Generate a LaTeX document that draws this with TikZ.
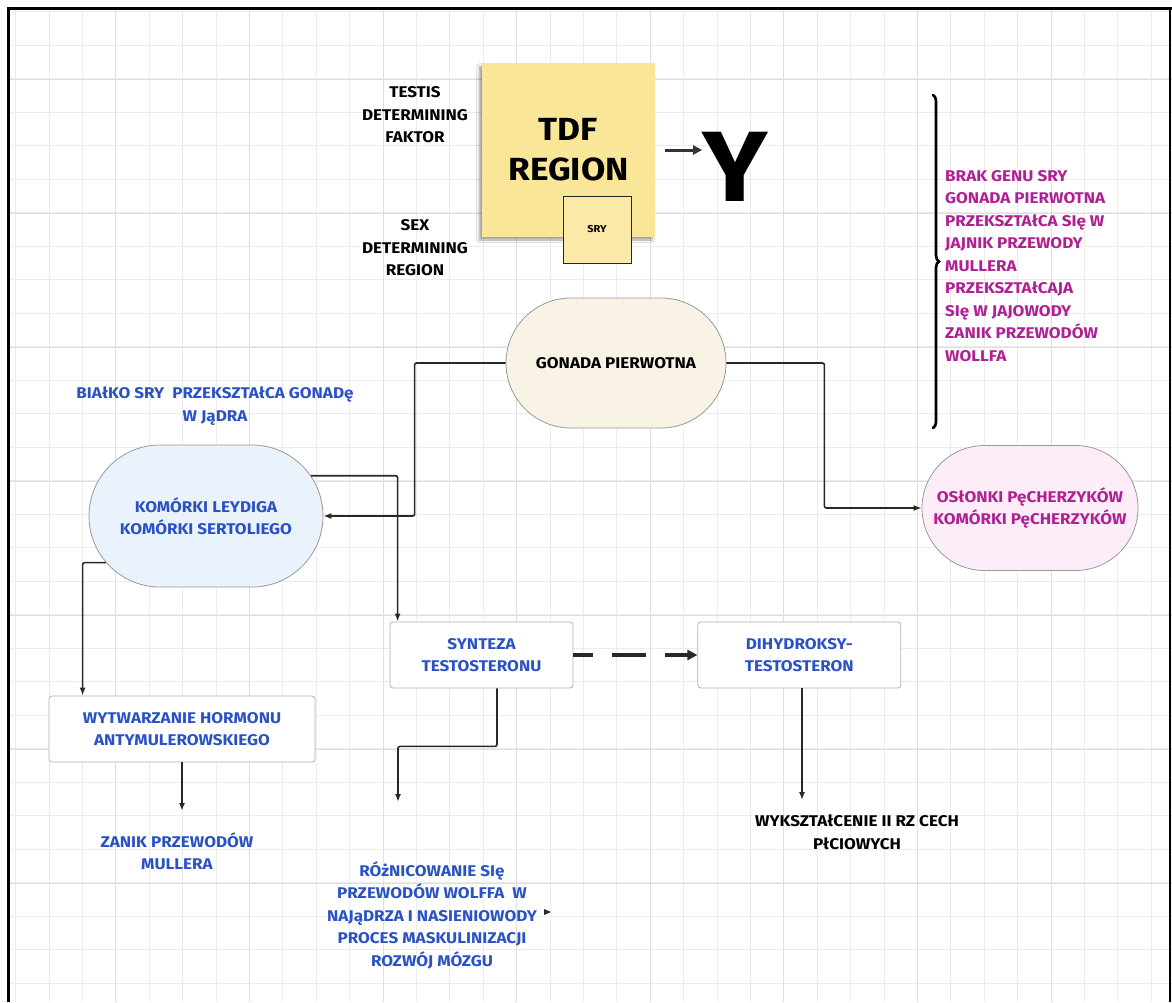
\documentclass[tikz,border=0pt]{standalone}
\usepackage{fontspec}
\setmainfont{Fira Sans}[FakeStretch=1.1]
\usepackage{tikz}
\usetikzlibrary{positioning, calc}
\usetikzlibrary{arrows.meta}
\usetikzlibrary{shapes.misc, shadows.blur, decorations.pathreplacing}

\definecolor{inkblue}{RGB}{42,82,196}
\definecolor{inkpink}{RGB}{176,32,146}
\definecolor{linegray}{RGB}{40,40,40}
\definecolor{gridminor}{RGB}{236,236,236}
\definecolor{gridmajor}{RGB}{222,222,222}
\definecolor{stickyyellow}{RGB}{250,230,152}
\definecolor{gonadfill}{RGB}{248,243,229}
\definecolor{leydigfill}{RGB}{234,242,252}
\definecolor{folfill}{RGB}{252,237,248}

\tikzstyle{termbox}=[rounded rectangle, draw=black!40, thick, align=center,
inner sep=0pt, font=\fontsize{15.5}{22.5}\bfseries\selectfont]
\tikzstyle{procbox}=[rectangle, draw=black!30, thick, rounded corners=3pt,
fill=white, align=center, inner sep=0pt, text=inkblue,
font=\fontsize{15.5}{22.5}\bfseries\selectfont]
\tikzstyle{textbox}=[align=center, inner sep=0pt,
font=\fontsize{15.5}{22.5}\bfseries\selectfont]
\tikzstyle{edgepath} = [-{Latex[length=8pt,width=6pt]}, line width=1.6pt,
draw=linegray, rounded corners=2pt]

\begin{document}
\begin{tikzpicture}[x=1pt, y=-1pt]
    \useasboundingbox (0,0) rectangle (1172,1002);
    \fill[white] (0,0) rectangle (1172,1002);
    % squared paper
    \foreach \i in {0,...,34}
        \draw[gridminor, line width=1pt] ({15.6+33.4*\i},8) -- ({15.6+33.4*\i},1002);
    \foreach \j in {0,...,29}
        \draw[gridminor, line width=1pt] (8,{11.5+33.5*\j}) -- (1172,{11.5+33.5*\j});
    \foreach \i in {0,...,7}
        \draw[gridmajor, line width=1pt] ({115.8+133.6*\i},8) -- ({115.8+133.6*\i},1002);
    \foreach \j in {0,...,6}
        \draw[gridmajor, line width=1pt] (8,{79+134*\j}) -- (1172,{79+134*\j});
    \draw[line width=3pt] (8,1002) -- (8,8) -- (1172,8);
    \draw[line width=2pt] (1170,8) -- (1170,1002);

    % TDF region and Y
    \node[rectangle, fill=stickyyellow, minimum width=173pt, minimum height=174pt,
          blur shadow={shadow xshift=-3pt, shadow yshift=-3pt, shadow opacity=35},
          align=center, font=\fontsize{32}{40}\bfseries\selectfont] (tdf) at (568.5,150) {TDF\\REGION};
    \node[rectangle, draw=black!85, thick, fill=stickyyellow!85!white,
          minimum width=68pt, minimum height=67pt, font=\fontsize{10}{12}\bfseries\selectfont] (sry) at (597,229.5) {SRY};
    \node[inner sep=0pt, font=\fontsize{100}{100}\bfseries\selectfont] (ychrom) at (735,167) {Y};
    \node[textbox] (tdflabel) at (415,115) {TESTIS\\DETERMINING\\FAKTOR};
    \node[textbox] (srylabel) at (415,248) {SEX\\DETERMINING\\REGION};

    % main chart
    \node[termbox, fill=gonadfill, minimum width=220pt, minimum height=130pt] (gonad) at (616,363) {GONADA PIERWOTNA};
    \node[termbox, fill=leydigfill, text=inkblue, minimum width=234pt, minimum height=142pt] (leydig) at (206,516)
        {KOMÓRKI LEYDIGA\\KOMÓRKI SERTOLIEGO};
    \node[termbox, fill=folfill, text=inkpink, minimum width=216pt, minimum height=125pt] (oslon) at (1030,508)
        {OSłONKI PęCHERZYKÓW\\KOMÓRKI PęCHERZYKÓW};
    \node[textbox, text=inkblue] (sryprot) at (215,406) {BIAłKO SRY\ \ PRZEKSZTAłCA GONADę\\W JąDRA};

    \node[procbox, minimum width=183pt, minimum height=66pt] (synt) at (481.5,655) {SYNTEZA\\TESTOSTERONU};
    \node[procbox, minimum width=203pt, minimum height=66pt, right=124pt of synt] (dht) {DIHYDROKSY-\\TESTOSTERON};
    \node[procbox, minimum width=266pt, minimum height=66pt] (amh) at (182,729) {WYTWARZANIE HORMONU\\ANTYMULEROWSKIEGO};

    \node[textbox, text=inkblue] (zanik) at (177,851) {ZANIK PRZEWODÓW\\MULLERA};
    \node[textbox, text=inkblue] (wolff) at (432,915)
        {RÓżNICOWANIE SIę\\PRZEWODÓW WOLFFA\ \ W\\NAJąDRZA I NASIENIOWODY\\PROCES MASKULINIZACJI\\ROZWÓJ MÓZGU};
    \node[textbox] (cechy) at (857,832) {WYKSZTAłCENIE II RZ CECH\\PłCIOWYCH};

    \node[textbox, text=inkpink, align=left, anchor=west] (nosry) at (945,266)
        {BRAK GENU SRY\\GONADA PIERWOTNA\\PRZEKSZTAłCA SIę W\\JAJNIK PRZEWODY\\MULLERA\\PRZEKSZTAłCAJA\\SIę W JAJOWODY\\ZANIK PRZEWODÓW\\WOLLFA};
    \draw[line width=2.6pt, line cap=round, decorate, decoration={brace, amplitude=6pt}]
        (933,95) -- (933,428);

    \coordinate (amhout) at (182,811);
    \coordinate (wolffin) at (398,802);
    \coordinate (cechyin) at (802,800);

    \draw[-{Triangle[length=9pt,width=9pt]}, line width=3pt, draw=black!80, shorten <=10pt]
        (tdf.east) -- (tdf.east -| ychrom.west);

    \draw[edgepath] (gonad.west) -- ++(-91,0) |- (leydig.east);
    \draw[edgepath] (gonad.east) -- ++(98,0) |- (oslon.west);
    \draw[edgepath] (leydig.21) -| ([xshift=8pt]synt.north west);
    \draw[edgepath] (leydig.205) -| ([xshift=34pt]amh.north west);
    \draw[edgepath] (amh.south) -- (amhout);
    \draw[edgepath] ([xshift=15.5pt]synt.south) -- ++(0,58) -| (wolffin);
    \draw[edgepath] (dht.south -| cechyin) -- (cechyin);
    \draw[-{Triangle[length=10pt,width=10pt]}, line width=3.5pt, draw=linegray,
          dash pattern=on 34pt off 19pt, dash phase=14pt] (synt.east) -- (dht.west);
    % stray tip beside the wolff text
    \fill[linegray] (544,909) -- (551,912) -- (544,915) -- cycle;
\end{tikzpicture}
\end{document}
